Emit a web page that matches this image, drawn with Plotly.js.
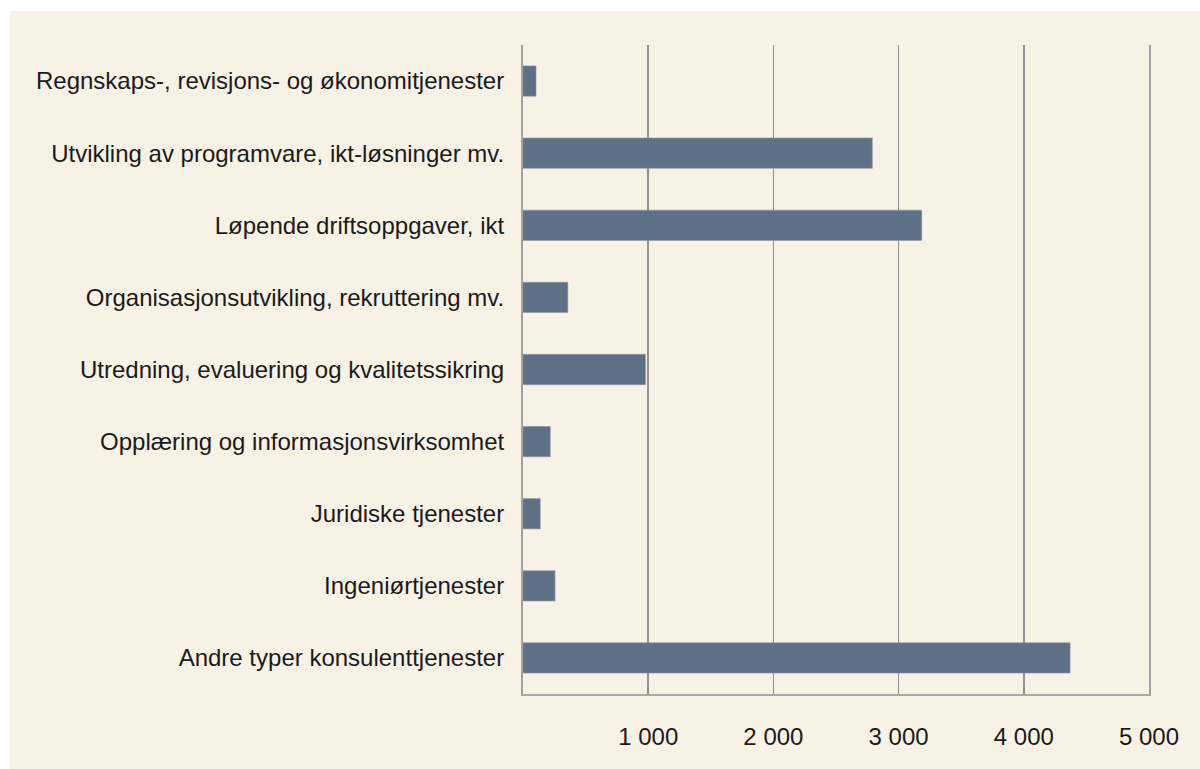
<!DOCTYPE html>
<html>
<head>
<meta charset="utf-8">
<script src="https://cdn.plot.ly/plotly-3.0.1.min.js"></script>
<style>
html, body { margin: 0; padding: 0; background: #ffffff; width: 1200px; height: 769px; overflow: hidden; }
#chart { position: absolute; left: 10px; top: 11px; width: 1190px; height: 758px; }
</style>
</head>
<body>
<div id="chart"></div>
<script>
const categories = [
  "Regnskaps-, revisjons- og økonomitjenester",
  "Utvikling av programvare, ikt-løsninger mv.",
  "Løpende driftsoppgaver, ikt",
  "Organisasjonsutvikling, rekruttering mv.",
  "Utredning, evaluering og kvalitetssikring",
  "Opplæring og informasjonsvirksomhet",
  "Juridiske tjenester",
  "Ingeniørtjenester",
  "Andre typer konsulenttjenester"
];
const values = [104, 2790, 3185, 358, 978, 218, 138, 256, 4370];
const tickValues = [1000, 2000, 3000, 4000, 5000];
const tickLabels = ["1 000", "2 000", "3 000", "4 000", "5 000"];

const trace = {
  type: "bar",
  orientation: "h",
  y: categories,
  x: values,
  marker: { color: "#5d7085", line: { color: "#8a99a9", width: 0.6 } },
  hoverinfo: "x+y"
};

const layout = {
  width: 1190,
  height: 758,
  paper_bgcolor: "#f8f1e5",
  plot_bgcolor: "#f8f1e5",
  margin: { l: 513, r: 51, t: 34, b: 75, pad: 0 },
  bargap: 0.58,
  showlegend: false,
  font: { family: "Liberation Sans, Arial, sans-serif", size: 24, color: "#1a1a1a" },
  xaxis: {
    range: [0, 5000],
    tickvals: tickValues,
    ticktext: tickLabels,
    showgrid: true,
    gridcolor: "#909090",
    gridwidth: 1.5,
    zeroline: false,
    showline: true,
    linecolor: "#a8a8a8",
    linewidth: 2,
    ticks: "outside",
    ticklen: 20,
    tickcolor: "rgba(0,0,0,0)",
    tickfont: { size: 24, color: "#1a1a1a" },
    fixedrange: true
  },
  yaxis: {
    autorange: "reversed",
    showgrid: false,
    zeroline: false,
    showline: true,
    mirror: true,
    linecolor: "#a0a0a0",
    linewidth: 2,
    ticks: "outside",
    ticklen: 12,
    tickcolor: "rgba(0,0,0,0)",
    tickfont: { size: 24, color: "#1a1a1a" },
    fixedrange: true
  }
};

Plotly.newPlot("chart", [trace], layout, { displayModeBar: false, staticPlot: true });
</script>
</body>
</html>
